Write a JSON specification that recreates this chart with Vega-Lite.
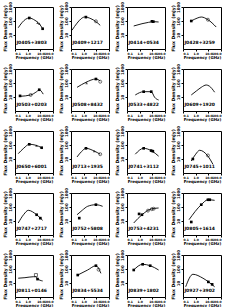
{
"$schema":"https://vega.github.io/schema/vega-lite/v6.json",
"padding":{"left":1,"top":0,"right":0,"bottom":0},
"config":{"view":{"stroke":"black","strokeWidth":1},"font":"DejaVu Sans","header":{"labelExpr":"''","labelPadding":0,"labelFontSize":1,"labelOrient":"bottom","title":null},
"axis":{"domain":false,"tickColor":"black","tickSize":2,"labelFontSize":4,"labelFontWeight":"bold","labelColor":"black","titleFontSize":4.5,"titleFontWeight":"bold","titleColor":"black","grid":false,"labelPadding":1,"titlePadding":1}},
"datasets":{"d":[
{"src":"J0405+3803","i":1,"t":"lab"},{"src":"J0409+1217","i":2,"t":"lab"},{"src":"J0414+0534","i":3,"t":"lab"},{"src":"J0428+3259","i":4,"t":"lab"},{"src":"J0503+0203","i":5,"t":"lab"},{"src":"J0508+8432","i":6,"t":"lab"},{"src":"J0533+4822","i":7,"t":"lab"},{"src":"J0609+1920","i":8,"t":"lab"},{"src":"J0650+6001","i":9,"t":"lab"},{"src":"J0713+1935","i":10,"t":"lab"},{"src":"J0741+3112","i":11,"t":"lab"},{"src":"J0745+1011","i":12,"t":"lab"},{"src":"J0747+2717","i":13,"t":"lab"},{"src":"J0752+5808","i":14,"t":"lab"},{"src":"J0753+4231","i":15,"t":"lab"},{"src":"J0805+1614","i":16,"t":"lab"},{"src":"J0811+0146","i":17,"t":"lab"},{"src":"J0834+5534","i":18,"t":"lab"},{"src":"J0839+1802","i":19,"t":"lab"},{"src":"J0927+3902","i":20,"t":"lab"},
{"src":"J0405+3803","i":1,"t":"c","f":0.18,"s":33},{"src":"J0405+3803","i":1,"t":"c","f":0.35,"s":75},{"src":"J0405+3803","i":1,"t":"c","f":0.7,"s":135},{"src":"J0405+3803","i":1,"t":"c","f":1.34,"s":164},{"src":"J0405+3803","i":1,"t":"c","f":3.76,"s":112},{"src":"J0405+3803","i":1,"t":"c","f":8.2,"s":64},{"src":"J0405+3803","i":1,"t":"c","f":15.2,"s":28},
{"src":"J0405+3803","i":1,"t":"s","f":1.34,"s":164},{"src":"J0405+3803","i":1,"t":"s","f":15.2,"s":28},{"src":"J0405+3803","i":1,"t":"tr","f":6.1,"s":75},{"src":"J0405+3803","i":1,"t":"tr","f":8.2,"s":64},
{"src":"J0409+1217","i":2,"t":"c","f":0.12,"s":22},{"src":"J0409+1217","i":2,"t":"c","f":0.3,"s":70},{"src":"J0409+1217","i":2,"t":"c","f":0.6,"s":140},{"src":"J0409+1217","i":2,"t":"c","f":1.2,"s":193},{"src":"J0409+1217","i":2,"t":"c","f":3.76,"s":146},{"src":"J0409+1217","i":2,"t":"c","f":9.3,"s":90},{"src":"J0409+1217","i":2,"t":"c","f":20.3,"s":49},
{"src":"J0409+1217","i":2,"t":"s","f":1.5,"s":190},{"src":"J0409+1217","i":2,"t":"o","f":9.3,"s":95},
{"src":"J0414+0534","i":3,"t":"c","f":0.34,"s":44},{"src":"J0414+0534","i":3,"t":"c","f":1.52,"s":64},{"src":"J0414+0534","i":3,"t":"c","f":5,"s":80},{"src":"J0414+0534","i":3,"t":"c","f":12,"s":90},{"src":"J0414+0534","i":3,"t":"c","f":31.3,"s":85},
{"src":"J0414+0534","i":3,"t":"s","f":9.3,"s":95},{"src":"J0414+0534","i":3,"t":"s","f":12,"s":90},
{"src":"J0428+3259","i":4,"t":"c","f":0.45,"s":100},{"src":"J0428+3259","i":4,"t":"c","f":1.3,"s":160},{"src":"J0428+3259","i":4,"t":"c","f":2.76,"s":193},{"src":"J0428+3259","i":4,"t":"c","f":9.3,"s":124},{"src":"J0428+3259","i":4,"t":"c","f":41.9,"s":37},
{"src":"J0428+3259","i":4,"t":"s","f":0.45,"s":100},{"src":"J0428+3259","i":4,"t":"o","f":9.3,"s":124},
{"src":"J0503+0203","i":5,"t":"c","f":0.25,"s":11.2},{"src":"J0503+0203","i":5,"t":"c","f":1.72,"s":14},{"src":"J0503+0203","i":5,"t":"c","f":5.1,"s":24},{"src":"J0503+0203","i":5,"t":"c","f":8.2,"s":33},{"src":"J0503+0203","i":5,"t":"c","f":16.9,"s":16},
{"src":"J0503+0203","i":5,"t":"s","f":0.25,"s":12},{"src":"J0503+0203","i":5,"t":"s","f":8.2,"s":33},{"src":"J0503+0203","i":5,"t":"o","f":1.72,"s":14},
{"src":"J0508+8432","i":6,"t":"c","f":0.3,"s":49},{"src":"J0508+8432","i":6,"t":"c","f":1.52,"s":112},{"src":"J0508+8432","i":6,"t":"c","f":9.3,"s":193},{"src":"J0508+8432","i":6,"t":"c","f":20.3,"s":140},
{"src":"J0508+8432","i":6,"t":"tr","f":1.7,"s":100},{"src":"J0508+8432","i":6,"t":"s","f":9.3,"s":193},{"src":"J0508+8432","i":6,"t":"o","f":20.3,"s":124},
{"src":"J0533+4822","i":7,"t":"c","f":0.45,"s":14},{"src":"J0533+4822","i":7,"t":"c","f":2.07,"s":24},{"src":"J0533+4822","i":7,"t":"c","f":8.2,"s":24},{"src":"J0533+4822","i":7,"t":"c","f":15.2,"s":9.5},{"src":"J0533+4822","i":7,"t":"c","f":31.3,"s":6.1},
{"src":"J0533+4822","i":7,"t":"s","f":2.07,"s":24},{"src":"J0533+4822","i":7,"t":"s","f":8.2,"s":24},
{"src":"J0609+1920","i":8,"t":"c","f":0.45,"s":14},{"src":"J0609+1920","i":8,"t":"c","f":1.2,"s":28},{"src":"J0609+1920","i":8,"t":"c","f":2.76,"s":49},{"src":"J0609+1920","i":8,"t":"c","f":6.8,"s":72},{"src":"J0609+1920","i":8,"t":"c","f":12,"s":60},{"src":"J0609+1920","i":8,"t":"c","f":31.3,"s":22},
{"src":"J0650+6001","i":9,"t":"c","f":0.18,"s":24},{"src":"J0650+6001","i":9,"t":"c","f":0.5,"s":60},{"src":"J0650+6001","i":9,"t":"c","f":1.34,"s":112},{"src":"J0650+6001","i":9,"t":"c","f":3.76,"s":100},{"src":"J0650+6001","i":9,"t":"c","f":12.7,"s":64},
{"src":"J0650+6001","i":9,"t":"s","f":1.34,"s":112},{"src":"J0650+6001","i":9,"t":"s","f":12.7,"s":64},{"src":"J0650+6001","i":9,"t":"tr","f":5,"s":90},
{"src":"J0713+1935","i":10,"t":"c","f":0.3,"s":14},{"src":"J0713+1935","i":10,"t":"c","f":0.7,"s":35},{"src":"J0713+1935","i":10,"t":"c","f":1.52,"s":58},{"src":"J0713+1935","i":10,"t":"c","f":6.8,"s":37},{"src":"J0713+1935","i":10,"t":"c","f":20.3,"s":22},
{"src":"J0713+1935","i":10,"t":"s","f":1.52,"s":58},{"src":"J0713+1935","i":10,"t":"o","f":20.3,"s":22},{"src":"J0713+1935","i":10,"t":"tr","f":6.8,"s":37},
{"src":"J0741+3112","i":11,"t":"c","f":0.45,"s":22},{"src":"J0741+3112","i":11,"t":"c","f":2.07,"s":58},{"src":"J0741+3112","i":11,"t":"c","f":9.3,"s":37},{"src":"J0741+3112","i":11,"t":"c","f":31.3,"s":16},
{"src":"J0741+3112","i":11,"t":"s","f":2.07,"s":58},{"src":"J0741+3112","i":11,"t":"s","f":8,"s":40},{"src":"J0741+3112","i":11,"t":"s","f":11,"s":36},
{"src":"J0745+1011","i":12,"t":"c","f":0.45,"s":7.2},{"src":"J0745+1011","i":12,"t":"c","f":1.0,"s":22},{"src":"J0745+1011","i":12,"t":"c","f":2.07,"s":42},{"src":"J0745+1011","i":12,"t":"c","f":9.3,"s":16},{"src":"J0745+1011","i":12,"t":"c","f":23,"s":4.2},
{"src":"J0745+1011","i":12,"t":"o","f":9.3,"s":18},{"src":"J0745+1011","i":12,"t":"s","f":0.6,"s":10},
{"src":"J0747+2717","i":13,"t":"c","f":0.18,"s":7.2},{"src":"J0747+2717","i":13,"t":"c","f":0.5,"s":30},{"src":"J0747+2717","i":13,"t":"c","f":1.11,"s":58},{"src":"J0747+2717","i":13,"t":"c","f":5.1,"s":28},{"src":"J0747+2717","i":13,"t":"c","f":15.2,"s":11.2},
{"src":"J0747+2717","i":13,"t":"s","f":5.1,"s":28},{"src":"J0747+2717","i":13,"t":"s","f":10,"s":16},
{"src":"J0752+5808","i":14,"t":"c","f":0.3,"s":28},{"src":"J0752+5808","i":14,"t":"c","f":0.8,"s":60},{"src":"J0752+5808","i":14,"t":"c","f":2.07,"s":112},{"src":"J0752+5808","i":14,"t":"c","f":9.3,"s":146},{"src":"J0752+5808","i":14,"t":"c","f":31.3,"s":112},
{"src":"J0752+5808","i":14,"t":"s","f":0.45,"s":16},{"src":"J0752+5808","i":14,"t":"s","f":9.3,"s":146},
{"src":"J0753+4231","i":15,"t":"c","f":0.34,"s":7.2},{"src":"J0753+4231","i":15,"t":"c","f":1.52,"s":28},{"src":"J0753+4231","i":15,"t":"c","f":8.2,"s":72},{"src":"J0753+4231","i":15,"t":"c","f":31.3,"s":85},
{"src":"J0753+4231","i":15,"t":"s","f":1.52,"s":28},{"src":"J0753+4231","i":15,"t":"s","f":0.9,"s":32},{"src":"J0753+4231","i":15,"t":"o","f":4.5,"s":55},{"src":"J0753+4231","i":15,"t":"o","f":9,"s":70},{"src":"J0753+4231","i":15,"t":"o","f":12.7,"s":75},
{"src":"J0805+1614","i":16,"t":"c","f":0.3,"s":12.4},{"src":"J0805+1614","i":16,"t":"c","f":2.76,"s":146},{"src":"J0805+1614","i":16,"t":"c","f":9.3,"s":330},{"src":"J0805+1614","i":16,"t":"c","f":31.3,"s":300},
{"src":"J0805+1614","i":16,"t":"s","f":0.45,"s":8.5},{"src":"J0805+1614","i":16,"t":"s","f":2.76,"s":146},{"src":"J0805+1614","i":16,"t":"s","f":9.3,"s":330},{"src":"J0805+1614","i":16,"t":"s","f":13,"s":330},
{"src":"J0811+0146","i":17,"t":"c","f":0.18,"s":22},{"src":"J0811+0146","i":17,"t":"c","f":0.61,"s":24},{"src":"J0811+0146","i":17,"t":"c","f":2.76,"s":28},{"src":"J0811+0146","i":17,"t":"c","f":4.5,"s":28},{"src":"J0811+0146","i":17,"t":"c","f":6,"s":20},{"src":"J0811+0146","i":17,"t":"c","f":15.2,"s":14},
{"src":"J0811+0146","i":17,"t":"os","f":4.5,"s":37},{"src":"J0811+0146","i":17,"t":"s","f":6,"s":19},
{"src":"J0834+5534","i":18,"t":"c","f":0.34,"s":37},{"src":"J0834+5534","i":18,"t":"c","f":2.07,"s":85},{"src":"J0834+5534","i":18,"t":"c","f":9.3,"s":172},{"src":"J0834+5534","i":18,"t":"c","f":23,"s":49},
{"src":"J0834+5534","i":18,"t":"s","f":0.34,"s":37},{"src":"J0834+5534","i":18,"t":"s","f":9.3,"s":172},{"src":"J0834+5534","i":18,"t":"o","f":15,"s":90},
{"src":"J0839+1802","i":19,"t":"c","f":0.34,"s":85},{"src":"J0839+1802","i":19,"t":"c","f":1.72,"s":217},{"src":"J0839+1802","i":19,"t":"c","f":6.8,"s":172},{"src":"J0839+1802","i":19,"t":"c","f":31.3,"s":85},
{"src":"J0839+1802","i":19,"t":"s","f":0.34,"s":85},{"src":"J0839+1802","i":19,"t":"s","f":1.72,"s":217},{"src":"J0839+1802","i":19,"t":"s","f":6.8,"s":172},
{"src":"J0927+3902","i":20,"t":"c","f":0.163,"s":5.4},{"src":"J0927+3902","i":20,"t":"c","f":0.61,"s":42},{"src":"J0927+3902","i":20,"t":"c","f":3.76,"s":22},{"src":"J0927+3902","i":20,"t":"c","f":31.3,"s":5.4},
{"src":"J0927+3902","i":20,"t":"s","f":10,"s":12},{"src":"J0927+3902","i":20,"t":"s","f":20,"s":8}
]},
"data":{"name":"d"},
"facet":{"field":"src","type":"nominal","sort":{"field":"i","op":"min"}},
"columns":4,
"spacing":{"row":1,"column":3},
"resolve":{"axis":{"x":"independent","y":"independent"}},
"spec":{
"width":38,"height":42,
"layer":[
{"transform":[{"filter":"datum.t=='c'"}],"mark":{"type":"line","color":"black","strokeWidth":0.9,"interpolate":"monotone"},
"encoding":{
"x":{"field":"f","type":"quantitative","scale":{"type":"log","domain":[0.1,100]},"axis":{"title":"Frequency (GHz)","values":[0.1,1,10,100],"labelExpr":"format(datum.value,'.1f')","labelOverlap":false,"labelFontSize":3,"titleFontSize":4,"titlePadding":0}},
"y":{"field":"s","type":"quantitative","scale":{"type":"log","domain":[1,1000]},"axis":{"title":"Flux Density (mJy)","values":[10,100,1000],"labelExpr":"format(datum.value,'d')","labelAngle":270,"labelAlign":"center","labelBaseline":"bottom","labelFlush":true}}
}},
{"transform":[{"filter":"datum.t=='s'"}],"mark":{"type":"square","color":"black","filled":true,"size":7,"opacity":1},"encoding":{"x":{"field":"f","type":"quantitative"},"y":{"field":"s","type":"quantitative"}}},
{"transform":[{"filter":"datum.t=='o'"}],"mark":{"type":"point","shape":"circle","color":"black","filled":false,"size":9,"strokeWidth":0.8},"encoding":{"x":{"field":"f","type":"quantitative"},"y":{"field":"s","type":"quantitative"}}},
{"transform":[{"filter":"datum.t=='os'"}],"mark":{"type":"point","shape":"square","color":"black","filled":false,"size":9,"strokeWidth":0.8},"encoding":{"x":{"field":"f","type":"quantitative"},"y":{"field":"s","type":"quantitative"}}},
{"transform":[{"filter":"datum.t=='tr'"}],"mark":{"type":"point","shape":"triangle-up","color":"black","filled":true,"size":7},"encoding":{"x":{"field":"f","type":"quantitative"},"y":{"field":"s","type":"quantitative"}}},
{"transform":[{"filter":"datum.t=='lab'"}],
"mark":{"type":"text","align":"left","baseline":"middle","fontSize":4.5,"fontWeight":"bold","color":"black"},
"encoding":{"x":{"datum":0.13,"type":"quantitative"},"y":{"datum":2.6,"type":"quantitative"},"text":{"field":"src"}}}
]
}
}
